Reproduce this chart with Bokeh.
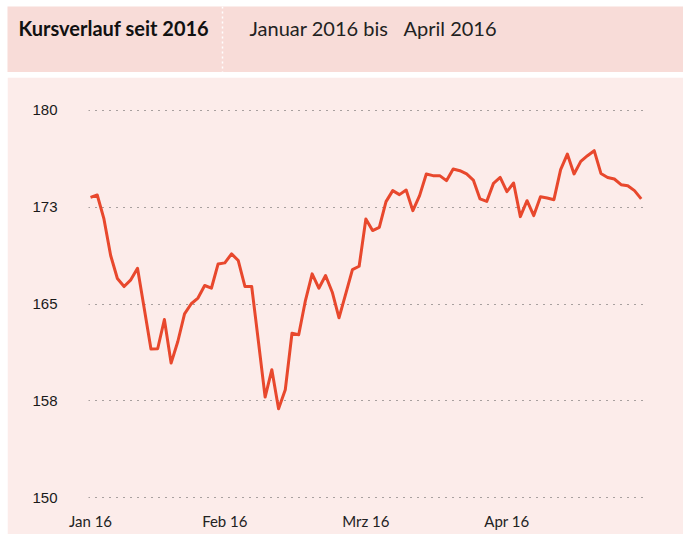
from bokeh.plotting import figure
from bokeh.models import Label, Span, FixedTicker, Range1d
from bokeh.layouts import column
from bokeh.embed import file_html
from bokeh.resources import INLINE

# Daily closing prices (trading days, Jan - Apr 2016)
prices = [
    173.25, 173.43, 171.58, 168.75, 166.97, 166.35, 166.87, 167.76, 164.65, 161.51,
    161.54, 163.80, 160.43, 162.10, 164.24, 165.02, 165.46, 166.43, 166.22, 168.10,
    168.18, 168.88, 168.36, 166.35, 166.35, 162.10, 157.80, 159.92, 156.89, 158.37,
    162.74, 162.62, 165.27, 167.33, 166.22, 167.20, 165.91, 163.93, 165.79, 167.66,
    167.92, 171.58, 170.68, 170.93, 172.92, 173.77, 173.46, 173.82, 172.22, 173.38,
    175.06, 174.93, 174.93, 174.54, 175.44, 175.31, 175.06, 174.59, 173.13, 172.94,
    174.33, 174.79, 173.69, 174.36, 171.76, 172.99, 171.84, 173.30, 173.20, 173.07,
    175.39, 176.60, 175.06, 176.03, 176.47, 176.86, 175.10, 174.79, 174.67, 174.23,
    174.15, 173.77, 173.13,
]
day_index = list(range(len(prices)))

month_labels = ["Jan 16", "Feb 16", "Mrz 16", "Apr 16"]
month_first_index = [0, 20, 41, 62]

y_ticks = [150, 157.5, 165, 172.5, 180]
y_tick_labels = ["150", "158", "165", "173", "180"]

title_text = "Kursverlauf seit 2016"
period_from = "Januar 2016 bis"
period_to = "April 2016"

HEADER_BG = "#f8dcd8"
PLOT_BG = "#fcecea"
LINE_COLOR = "#e8482d"

# ---------- header ----------
hdr = figure(width=676, height=66, x_range=Range1d(0, 676), y_range=Range1d(0, 66),
             output_backend="svg", toolbar_location=None,
             x_axis_type=None, y_axis_type=None, min_border=0,
             margin=(6, 0, 5, 7))
hdr.frame_align = False
hdr.background_fill_color = HEADER_BG
hdr.border_fill_color = HEADER_BG
hdr.outline_line_color = None
hdr.grid.visible = False

hdr.add_layout(Label(x=11, y=45, text=title_text, text_font="Lato",
                     text_font_style="bold", text_font_size="20px",
                     text_color="#111111", text_baseline="middle"))
hdr.add_layout(Span(location=215, dimension="height", line_color="white",
                    line_dash="2 3", line_width=1.5))
hdr.add_layout(Label(x=242, y=45, text=period_from, text_font="Lato",
                     text_font_size="20px", text_color="#222222",
                     text_baseline="middle"))
hdr.add_layout(Label(x=396, y=45, text=period_to, text_font="Lato",
                     text_font_size="20px", text_color="#222222",
                     text_baseline="middle"))

# ---------- main chart ----------
p = figure(width=676, height=457,
           x_range=Range1d(-0.3, 82.34), y_range=Range1d(149.8, 180.2),
           output_backend="svg", toolbar_location=None,
           min_border_left=81, min_border_right=40,
           min_border_top=30, min_border_bottom=34,
           margin=(0, 0, 0, 7))
p.frame_align = False
p.background_fill_color = PLOT_BG
p.border_fill_color = PLOT_BG
p.outline_line_color = PLOT_BG
p.outline_line_width = 2

p.line(day_index, prices, line_color=LINE_COLOR, line_width=3, line_join="round")

p.xaxis.ticker = FixedTicker(ticks=month_first_index)
p.xaxis.major_label_overrides = dict(zip(month_first_index, month_labels))
p.xaxis.major_label_text_font = "Lato"
p.xaxis.major_label_text_font_size = "15px"
p.xaxis.major_label_text_color = "#222222"
p.xaxis.major_label_standoff = 5

p.yaxis.ticker = FixedTicker(ticks=y_ticks)
p.yaxis.major_label_overrides = dict(zip(y_ticks, y_tick_labels))
p.yaxis.major_label_text_font = "Liberation Sans"
p.yaxis.major_label_text_font_size = "15px"
p.yaxis.major_label_text_color = "#1a1a1a"
p.yaxis.major_label_standoff = 25

for ax in (p.xaxis, p.yaxis):
    ax.axis_line_color = None
    ax.major_tick_line_color = None
    ax.minor_tick_line_color = None

p.xgrid.visible = False
p.ygrid.grid_line_color = "#555555"
p.ygrid.grid_line_dash = "1 6"
p.ygrid.grid_line_width = 1

layout = column(hdr, p)
open("out.html", "w").write(file_html(layout, INLINE))
